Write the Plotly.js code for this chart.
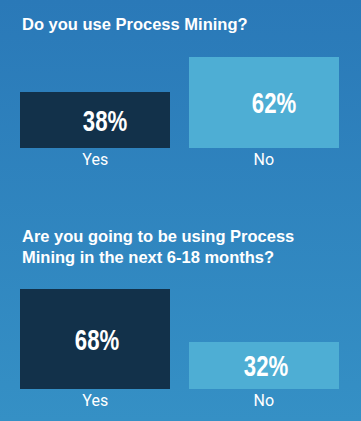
<!DOCTYPE html>
<html>
<head>
<meta charset="utf-8">
<script src="https://cdn.plot.ly/plotly-3.0.1.min.js"></script>
<style>
html,body{margin:0;padding:0;}
body{width:361px;height:421px;background:linear-gradient(180deg,#2a79b8 0%,#3590c5 100%);}
#chart{width:361px;height:421px;}
</style>
</head>
<body>
<div id="chart"></div>
<script>
const categories = ["Yes", "No"];
const q1Title = "Do you use Process Mining?";
const q1Values = [38, 62];
const q2Title = "Are you going to be using Process<br>Mining in the next 6-18 months?";
const q2Values = [68, 32];
const barColors = ["#12314a", "#4eaed4"];

const pctFont = {family: "Liberation Sans, Arial, sans-serif", size: 30, color: "#ffffff", weight: 700};
const titleFont = {family: "Liberation Sans, Arial, sans-serif", size: 16.5, color: "#ffffff", weight: 700};

const traces = [
  {type: "bar", x: categories, y: q1Values, xaxis: "x", yaxis: "y", marker: {color: barColors}, width: 0.89, hoverinfo: "none"},
  {type: "bar", x: categories, y: q2Values, xaxis: "x2", yaxis: "y2", marker: {color: barColors}, width: 0.89, hoverinfo: "none"}
];

const ML = 11, MR = 13, W = 361, H = 421;
const px = (p) => (p - ML) / (W - ML - MR);

const annotations = [];
q1Values.forEach((v, i) => annotations.push({xref: "x", yref: "y", x: categories[i], y: v / 2, text: v + "%", showarrow: false, font: pctFont, xshift: 10, yanchor: "middle"}));
q2Values.forEach((v, i) => annotations.push({xref: "x2", yref: "y2", x: categories[i], y: v / 2, text: v + "%", showarrow: false, font: pctFont, xshift: 2, yanchor: "middle"}));
annotations.push({xref: "paper", yref: "paper", x: px(20), y: 1 - 13/H, xanchor: "left", yanchor: "top", text: q1Title, showarrow: false, align: "left", font: titleFont});
annotations.push({xref: "paper", yref: "paper", x: px(20), y: 1 - 225/H, xanchor: "left", yanchor: "top", text: q2Title, showarrow: false, align: "left", font: titleFont});

const axX = {type: "category", range: [-0.5, 1.5], showgrid: false, zeroline: false, showline: false, ticks: "", fixedrange: true, tickfont: {family: "Roboto, sans-serif", size: 16, color: "#ffffff"}};
const axY = {range: [0, 100], showgrid: false, zeroline: false, showline: false, showticklabels: false, ticks: "", fixedrange: true};

const layout = {
  width: W, height: H,
  margin: {l: ML, r: MR, t: 0, b: 0, pad: 0},
  paper_bgcolor: "rgba(0,0,0,0)", plot_bgcolor: "rgba(0,0,0,0)",
  showlegend: false,
  bargap: 0,
  xaxis: Object.assign({}, axX, {anchor: "y"}),
  yaxis: Object.assign({}, axY, {domain: [273/H, 420/H], anchor: "x"}),
  xaxis2: Object.assign({}, axX, {anchor: "y2"}),
  yaxis2: Object.assign({}, axY, {domain: [32/H, 179/H], anchor: "x2"}),
  annotations: annotations
};

Plotly.newPlot("chart", traces, layout, {displayModeBar: false, staticPlot: true}).then(function () {
  document.querySelectorAll("#chart .annotation-text").forEach(function (t) {
    if (/%$/.test(t.textContent)) {
      t.style.transformBox = "fill-box";
      t.style.transformOrigin = "center";
      t.style.transform = "scaleX(0.74)";
    }
  });
});
</script>
</body>
</html>
